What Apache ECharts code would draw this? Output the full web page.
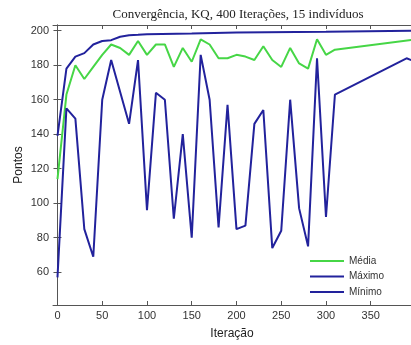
<!DOCTYPE html>
<html>
<head>
<meta charset="utf-8">
<style>
  html, body { margin: 0; padding: 0; background: #fff; }
  #chart { width: 411px; height: 345px; }
</style>
<script src="https://cdn.jsdelivr.net/npm/echarts@6/dist/echarts.min.js"></script>
</head>
<body>
<div id="chart"></div>
<script>
// valores
var xTicks = [0, 50, 100, 150, 200, 250, 300, 350]
var yTicks = [60, 80, 100, 120, 140, 160, 180, 200]

var iterMedia = [0, 10, 20, 30, 40, 50, 60, 70, 80, 90, 100, 110, 120, 130, 140, 150, 160, 170, 180, 190, 200, 210, 220, 230, 240, 250, 260, 270, 280, 290, 300, 310, 400]
var media = [114, 163, 180, 172, 179, 186, 192, 190, 186, 194, 186, 192, 192, 179, 190, 182, 195, 192, 184, 184, 186, 185, 183, 191, 183, 179, 190, 181, 178, 195, 186, 189, 195]

var iterMaximo = [0, 10, 20, 30, 40, 50, 60, 70, 80, 90, 100, 150, 200, 300, 400]
var maximo = [139, 178, 185, 187, 192, 194, 194.5, 196.5, 197.3, 197.6, 198, 198.4, 199, 199.4, 200]

var iterMinimo = [0, 10, 20, 30, 40, 50, 60, 80, 90, 100, 110, 120, 130, 140, 150, 160, 170, 180, 190, 200, 210, 220, 230, 240, 250, 260, 270, 280, 290, 300, 310, 390, 400]
var minimo = [57, 155, 149, 85, 69, 160, 183, 146, 183, 96, 164, 160, 91, 140, 80, 186, 160, 86, 157, 85, 87, 146, 154, 74, 84, 160, 97, 75, 184, 92, 163, 184, 182]

function pares (xs, ys) {
  return xs.map(function (x, i) { return [x, ys[i]] })
}

var corVerde = '#46d646'
var corAzul = '#22229c'
var fonte = 'Liberation Sans, Arial, sans-serif'

var chart = echarts.init(document.getElementById('chart'))
chart.setOption({
  animation: false,
  title: {
    text: 'Convergência, KQ, 400 Iterações, 15 indivíduos',
    left: 233,
    textAlign: 'center',
    top: 3,
    textStyle: { fontFamily: 'Liberation Serif, Times New Roman, serif', fontSize: 13, fontWeight: 'normal', color: '#222' }
  },
  legend: {
    orient: 'vertical',
    left: 310,
    top: 256,
    padding: 0,
    icon: 'rect',
    itemWidth: 34,
    itemHeight: 2,
    itemGap: 5.5,
    textStyle: { fontFamily: fonte, fontSize: 10, color: '#333' },
    data: ['Média', 'Máximo', 'Mínimo']
  },
  grid: { left: 53, right: -2, top: 25, bottom: 36 },
  xAxis: [
    {
      type: 'value',
      min: -5,
      max: 395,
      name: 'Iteração',
      nameLocation: 'middle',
      nameGap: 23,
      nameTextStyle: { fontFamily: fonte, fontSize: 12, color: '#222' },
      axisLine: { lineStyle: { color: '#555', width: 1 } },
      axisTick: { inside: true, length: 4, lineStyle: { color: '#555' }, customValues: xTicks },
      axisLabel: { fontFamily: fonte, fontSize: 11, color: '#333', margin: 5, customValues: xTicks },
      splitLine: { show: false }
    },
    {
      type: 'value',
      position: 'top',
      min: -5,
      max: 395,
      axisLine: { lineStyle: { color: '#555', width: 1 } },
      axisTick: { inside: true, length: 4, lineStyle: { color: '#555' }, customValues: xTicks },
      axisLabel: { show: false },
      splitLine: { show: false }
    }
  ],
  yAxis: [
    {
      type: 'value',
      min: 41,
      max: 203.3,
      name: 'Pontos',
      nameLocation: 'middle',
      nameGap: 28,
      nameMoveOverlap: false,
      nameTextStyle: { fontFamily: fonte, fontSize: 12, color: '#222' },
      axisLine: { show: true, lineStyle: { color: '#555', width: 1 } },
      axisTick: { show: true, inside: true, length: 4, lineStyle: { color: '#555' }, customValues: yTicks },
      axisLabel: { fontFamily: fonte, fontSize: 11, color: '#333', margin: 4, customValues: yTicks },
      splitLine: { show: false }
    },
    {
      type: 'value',
      position: 'right',
      min: 41,
      max: 203.3,
      axisLine: { show: true, lineStyle: { color: '#555', width: 1 } },
      axisTick: { show: true, inside: true, length: 4, lineStyle: { color: '#555' }, customValues: yTicks },
      axisLabel: { show: false },
      splitLine: { show: false }
    }
  ],
  series: [
    {
      name: 'Média',
      type: 'line',
      symbol: 'none',
      data: pares(iterMedia, media),
      lineStyle: { color: corVerde, width: 2 },
      itemStyle: { color: corVerde }
    },
    {
      name: 'Máximo',
      type: 'line',
      symbol: 'none',
      data: pares(iterMaximo, maximo),
      lineStyle: { color: corAzul, width: 2 },
      itemStyle: { color: corAzul }
    },
    {
      name: 'Mínimo',
      type: 'line',
      symbol: 'none',
      data: pares(iterMinimo, minimo),
      lineStyle: { color: corAzul, width: 2 },
      itemStyle: { color: corAzul }
    }
  ]
})
</script>
</body>
</html>
